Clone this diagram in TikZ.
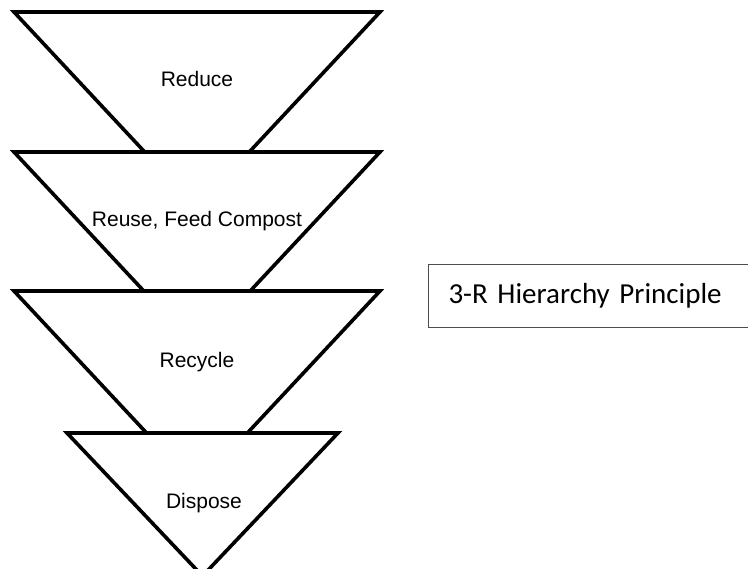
\documentclass[tikz,border=0pt]{standalone}
\usepackage{fontspec}
\setmainfont{Liberation Sans}
\newfontfamily\boxfont{Carlito}
\usetikzlibrary{positioning}

\begin{document}
\begin{tikzpicture}[x=1pt,y=-1pt]
\useasboundingbox (0,0) rectangle (748,569);
%%%%%%%%%%%%%%%%%%%%%%%%%%%%%%%%%%%%%%%%%%%%%%%%%%%%%%%%%%%%%%%%%%%%%%%%
%tiers (drawn top to bottom, each one hides the tip of the one above)
\tikzstyle{tier}=[draw=black,fill=white,line width=3.6pt,miter limit=10]
\tikzstyle{tiertext}=[font=\fontsize{21}{25}\selectfont,inner sep=0pt,anchor=base]

%1
\draw[tier] (14,12) -- (380,12) -- (197,208) -- cycle;
\node[tiertext] (reduce) at (197,87) {Reduce};
%2
\draw[tier] (14,152) -- (380,152) -- (197,348) -- cycle;
\node[tiertext] (reuse) at (197,227) {Reuse, Feed Compost};
%3
\draw[tier] (14,291) -- (380,291) -- (197,487) -- cycle;
\node[tiertext] (recycle) at (197,368) {Recycle};
%4
\draw[tier] (67,433) -- (338,433) -- (202.5,576) -- cycle;
\node[tiertext] (dispose) at (204,509) {Dispose};

%title box
\node[draw=black!70,line width=1pt,anchor=north west,minimum height=63pt,
  text width=300pt,inner xsep=20pt,align=left,
  font=\boxfont\fontsize{29}{34}\selectfont] (title) at (428,264) {3-R Hierarchy Principle};
\end{tikzpicture}
\end{document}
